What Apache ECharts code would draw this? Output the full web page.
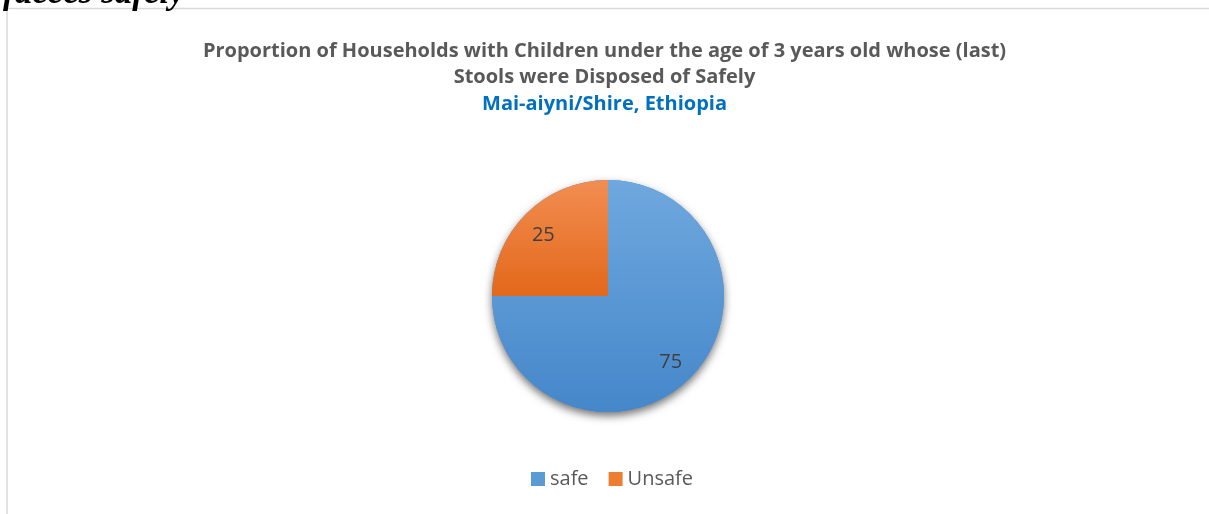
<!DOCTYPE html>
<html>
<head>
<meta charset="utf-8">
<script src="https://cdn.jsdelivr.net/npm/echarts@6/dist/echarts.min.js"></script>
<style>
  html, body { margin: 0; padding: 0; background: #ffffff; }
  #chart { width: 1209px; height: 514px; }
</style>
</head>
<body>
<div id="chart"></div>
<script>
// Stool disposal among households with children under 3
const categories = ['safe', 'Unsafe'];
const shares = [75, 25];
const titleLines = [
  'Proportion of Households with Children under the age of 3 years old whose (last)',
  'Stools were Disposed of Safely'
];
const subtitle = 'Mai-aiyni/Shire, Ethiopia';
const captionAbove = 'faeces safely';

const FONT = '"Open Sans", Lato, sans-serif';
const CENTER = [608, 296];
const RADIUS = 116;

function grad(top, bottom) {
  return new echarts.graphic.LinearGradient(0, 0, 0, 1, [
    { offset: 0, color: top },
    { offset: 1, color: bottom }
  ]);
}
const fills = [grad('#6fa8de', '#4587ca'), grad('#f28d52', '#e3681a')];
const legendColors = ['#5b9bd5', '#ed7d31'];

const sliceData = categories.map((name, i) => ({
  name: name,
  value: shares[i],
  itemStyle: { color: fills[i] }
}));
const total = shares.reduce((a, b) => a + b, 0);

const chart = echarts.init(document.getElementById('chart'), null, { renderer: 'canvas' });
chart.setOption({
  animation: false,
  backgroundColor: '#ffffff',
  color: legendColors,
  title: {
    text: titleLines.join('\n'),
    subtext: subtitle,
    left: 'center',
    top: 33,
    itemGap: 1,
    textStyle: {
      fontFamily: FONT, fontSize: 20, fontWeight: 'bold',
      color: '#595959', lineHeight: 26
    },
    subtextStyle: {
      fontFamily: FONT, fontSize: 20, fontWeight: 'bold',
      color: '#0070c0', lineHeight: 26
    }
  },
  legend: {
    bottom: 20,
    left: 526,
    padding: 5,
    icon: 'rect',
    itemWidth: 14,
    itemHeight: 14,
    itemGap: 20,
    data: categories.map((c, i) => ({ name: c, itemStyle: { color: legendColors[i] } })),
    textStyle: { fontFamily: FONT, fontSize: 20, color: '#595959' }
  },
  graphic: [
    {
      type: 'rect',
      silent: true,
      shape: { x: 7, y: 8.5, width: 1400, height: 700 },
      style: { fill: 'none', stroke: '#d9d9d9', lineWidth: 1.5 }
    },
    {
      type: 'text',
      silent: true,
      left: 3,
      top: -24,
      style: {
        text: captionAbove,
        font: 'italic bold 35px "Liberation Serif", "DejaVu Serif", serif',
        fill: '#000000'
      }
    }
  ],
  series: [
    {
      // drop shadow behind the whole disc
      type: 'pie',
      silent: true,
      center: CENTER,
      radius: RADIUS,
      startAngle: 90,
      label: { show: false },
      labelLine: { show: false },
      data: [{ value: total, name: '' }],
      itemStyle: {
        color: '#4a8cce',
        shadowBlur: 9,
        shadowOffsetY: 4,
        shadowColor: 'rgba(0,0,0,0.55)'
      },
      legendHoverLink: false
    },
    {
      type: 'pie',
      center: CENTER,
      radius: RADIUS,
      startAngle: 90,
      clockwise: true,
      label: { show: false },
      labelLine: { show: false },
      data: sliceData
    },
    {
      // value labels placed at three quarters of the radius
      type: 'pie',
      silent: true,
      center: CENTER,
      radius: [RADIUS * 0.5, RADIUS],
      startAngle: 90,
      clockwise: true,
      itemStyle: { color: 'rgba(0,0,0,0)' },
      label: {
        show: true,
        position: 'inside',
        formatter: '{c}',
        fontFamily: FONT,
        fontSize: 20,
        color: '#404040',
        offset: [-1, 3]
      },
      labelLine: { show: false },
      data: categories.map((c, i) => ({ name: c, value: shares[i] }))
    }
  ]
});
</script>
</body>
</html>
